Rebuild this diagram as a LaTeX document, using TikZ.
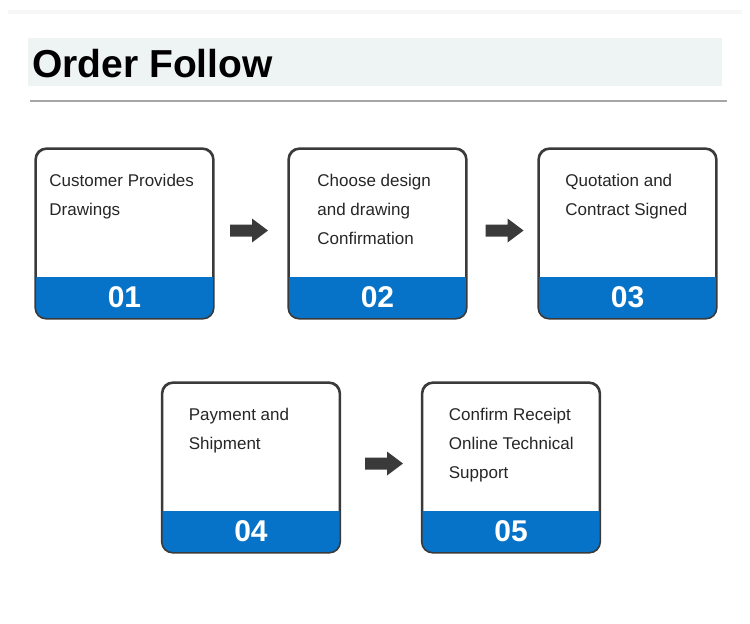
\documentclass[tikz,border=0pt]{standalone}
\usepackage{fontspec}
\setmainfont{Liberation Sans}
\usetikzlibrary{calc}

\definecolor{stepblue}{HTML}{0673C8}
\definecolor{cardline}{HTML}{3A3A3A}
\definecolor{bandgray}{HTML}{EEF3F3}
\definecolor{inktext}{HTML}{262626}

\begin{document}
\begin{tikzpicture}[x=1pt,y=-1pt,
    stepcard/.style={draw=cardline, line width=1.6pt, rounded corners=11pt,
      minimum width=177pt, minimum height=169pt, inner sep=0pt},
    steptext/.style={anchor=north west, inner sep=0pt, align=left, text=inktext,
      font=\fontsize{17}{29}\selectfont},
    stepnum/.style={text=white, inner sep=0pt, font=\fontsize{30}{30}\selectfont\bfseries}
  ]
      \useasboundingbox (0,0) rectangle (750,624);
      % title
      \fill [gray!6] (8,10) rectangle (742,14);
      \fill [bandgray] (28,38) rectangle (722,86);
      \node [anchor=base west, inner sep=0pt, font=\fontsize{39}{39}\selectfont\bfseries] (title) at (32,77) {Order Follow};
      \draw [gray!70, line width=1.2pt] (30,101) -- (727,101);
      % cards
      \node [stepcard] (s1) at (124.5,233.5) {};
      \node [stepcard] (s2) at (377.5,233.5) {};
      \node [stepcard] (s3) at (627.5,233.5) {};
      \node [stepcard] (s4) at (251,467.5) {};
      \node [stepcard] (s5) at (511,467.5) {};
      % blue bands
      \foreach \i in {1,...,5} {
        \begin{scope}
          \clip [rounded corners=11pt] (s\i.south west) rectangle (s\i.north east);
          \fill [stepblue] (s\i.south west) rectangle ($(s\i.south east)+(0,-42)$);
        \end{scope}
        \draw [cardline, line width=1.6pt, rounded corners=11pt] (s\i.south west) rectangle (s\i.north east);
        \node [stepnum] (n\i) at ($(s\i.south)+(0,-22)$) {0\i};
      }
      % texts
      \node [steptext] (t1) at ($(s1.north west)+(14,26)$) {Customer Provides\\Drawings};
      \node [steptext] (t2) at ($(s2.north west)+(29,26)$) {Choose design\\and drawing\\Confirmation};
      \node [steptext] (t3) at ($(s3.north west)+(27,26)$) {Quotation and\\Contract Signed};
      \node [steptext] (t4) at ($(s4.north west)+(27,26)$) {Payment and\\Shipment};
      \node [steptext] (t5) at ($(s5.north west)+(27,26)$) {Confirm Receipt\\Online Technical\\Support};
      % arrows
      \coordinate (a1) at ($(s1.east)!.5!(s2.west)+(-2,-3)$);
      \coordinate (a2) at ($(s2.east)!.5!(s3.west)+(2,-3)$);
      \coordinate (a3) at ($(s4.east)!.5!(s5.west)+(3,-4)$);
      \foreach \a in {a1,a2,a3}
        \fill [cardline] ($(\a)+(-19,-6)$) -- ++(22,0) -- ++(0,-6) -- ($(\a)+(19,0)$)
          -- ($(\a)+(3,12)$) -- ++(0,-6) -- ++(-22,0) -- cycle;
\end{tikzpicture}
\end{document}
